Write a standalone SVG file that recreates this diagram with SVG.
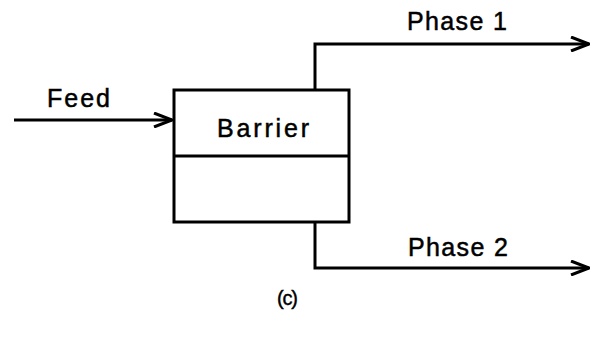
<svg xmlns="http://www.w3.org/2000/svg" width="592" height="337" viewBox="0 0 592 337">
<defs>
<style>
.ln{fill:none;stroke:#000;stroke-width:3;stroke-linejoin:miter}
.box{fill:#fff;stroke:#000;stroke-width:3}
.t{font-family:"Liberation Sans",Arial,sans-serif;font-size:25px;fill:#000;stroke:#000;stroke-width:0.5}
</style>
<marker id="arr" viewBox="0 0 20 16" refX="19" refY="8" markerWidth="20" markerHeight="16" markerUnits="userSpaceOnUse" orient="auto">
<path d="M1 1 L19 8 L1 15" fill="none" stroke="#000" stroke-width="3"/>
</marker>
</defs>
<rect width="592" height="337" fill="#fff"/>
<g id="connectors">
<path class="ln" d="M14 120 H172" marker-end="url(#arr)"/>
<path class="ln" d="M315 90 V44 H589" marker-end="url(#arr)"/>
<path class="ln" d="M315 222 V268 H589" marker-end="url(#arr)"/>
</g>
<g id="barrier">
<rect class="box" x="174" y="90" width="175" height="132"/>
<line class="ln" x1="174" y1="156" x2="349" y2="156"/>
<text class="t" x="217" y="137" textLength="92" lengthAdjust="spacing">Barrier</text>
</g>
<g id="labels">
<text class="t" x="47" y="107" textLength="63" lengthAdjust="spacing">Feed</text>
<text class="t" x="407" y="30" textLength="100" lengthAdjust="spacing">Phase 1</text>
<text class="t" x="408" y="256" textLength="100" lengthAdjust="spacing">Phase 2</text>
<text class="t" x="277" y="305" style="font-size:20px;stroke-width:0.4" textLength="21" lengthAdjust="spacing">(c)</text>
</g>
</svg>
